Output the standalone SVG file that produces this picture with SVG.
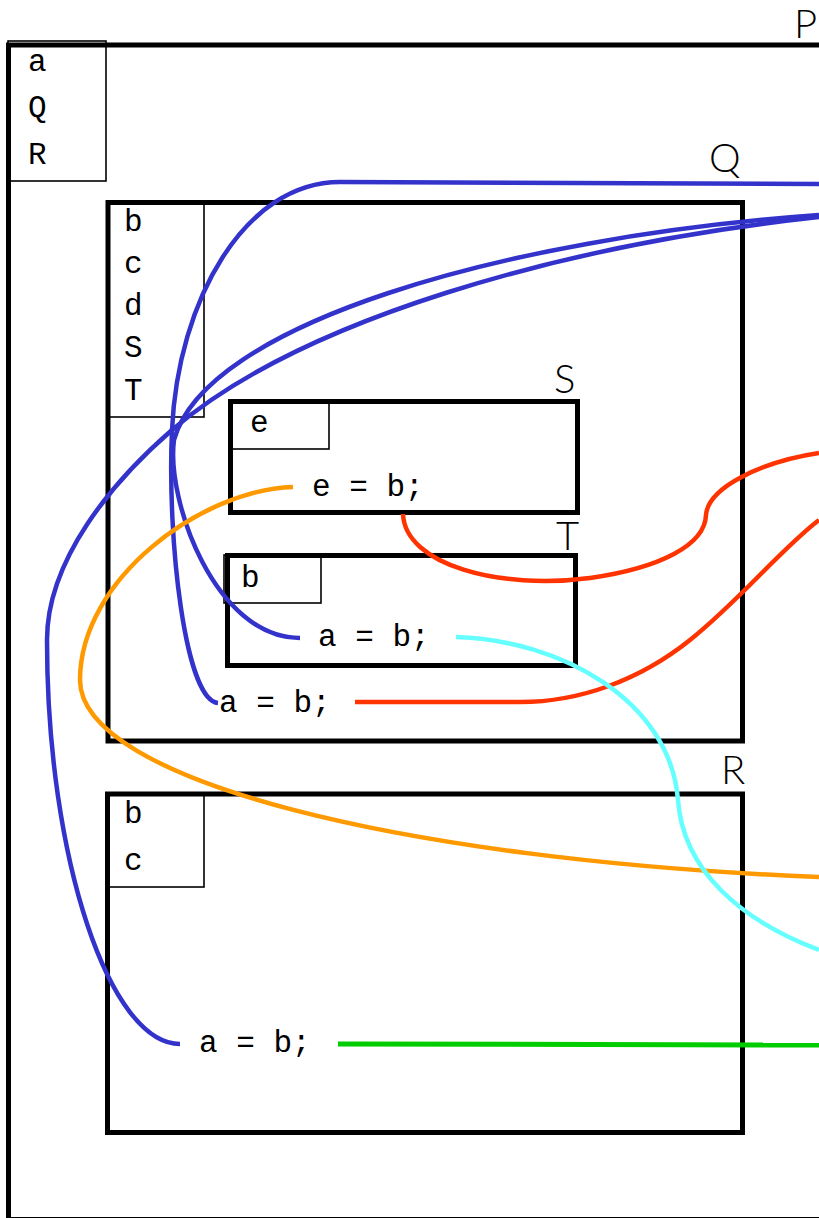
<svg xmlns="http://www.w3.org/2000/svg" width="819" height="1218" viewBox="0 0 819 1218">
<style>
.box{fill:none;stroke:#000;stroke-width:5}
.side{fill:none;stroke:#000;stroke-width:1.6}
.code{font-family:"Liberation Mono","DejaVu Sans Mono",monospace;font-size:31px;fill:#000}
.lbl{font-family:Lato,"Open Sans",sans-serif;font-size:40px;font-weight:300;fill:#000}
.c{fill:none;stroke-width:4.5;stroke-linecap:butt;stroke-linejoin:round}
.blue{stroke:#3333cc}.orange{stroke:#ff9900}.red{stroke:#ff3300}.cyan{stroke:#66ffff}.green{stroke:#00cc00;stroke-width:5}
</style>
<rect width="819" height="1218" fill="#fff"/>
<g id="P">
<rect class="box" x="8.5" y="45" width="900" height="1174.5"/>
<rect class="side" x="8" y="41" width="98" height="140"/>
<text class="code" x="28" y="71">a</text>
<text class="code" x="28" y="117">Q</text>
<text class="code" x="28" y="164">R</text>
<text class="lbl" x="794" y="38">P</text>
</g>
<g id="Q">
<rect class="box" x="108" y="202.5" width="634.5" height="538.5"/>
<rect class="side" x="107" y="202" width="97" height="215"/>
<text class="code" x="124" y="231">b</text>
<text class="code" x="124" y="273">c</text>
<text class="code" x="124" y="315">d</text>
<text class="code" x="124" y="357">S</text>
<text class="code" x="124" y="400">T</text>
<text class="lbl" x="709" y="172">Q</text>
<text class="code" x="219" y="712">a = b;</text>
</g>
<g id="S">
<rect class="box" x="230.5" y="401.5" width="347" height="111"/>
<rect class="side" x="230" y="401" width="99" height="48"/>
<text class="code" x="250" y="432">e</text>
<text class="code" x="312" y="496">e = b;</text>
<text class="lbl" x="554" y="393">S</text>
</g>
<g id="T">
<rect class="box" x="227.5" y="555.5" width="348" height="110"/>
<rect class="side" x="224" y="555" width="97" height="48"/>
<text class="code" x="241" y="587">b</text>
<text class="code" x="318" y="646">a = b;</text>
<text class="lbl" x="556" y="550">T</text>
</g>
<g id="R">
<rect class="box" x="107.5" y="794" width="635" height="338.5"/>
<rect class="side" x="107" y="794" width="97" height="93"/>
<text class="code" x="124" y="823">b</text>
<text class="code" x="124" y="870">c</text>
<text class="code" x="199" y="1052">a = b;</text>
<text class="lbl" x="721" y="784">R</text>
</g>
<g id="connectors">
<path class="c blue" d="M819,184 L340,182 C245,182 178,300 172,430 C167,540 185,700 218,703"/>
<path class="c blue" d="M819,215 C500,238 205,325 174,440 C166,500 215,638 300,638"/>
<path class="c blue" d="M819,217 C560,245 300,320 172,430 C112,482 47,560 47,640 C47,860 110,1044 180,1044"/>
<path class="c orange" d="M293,487 C200,490 80,580 80,680 C80,780 400,860 819,877"/>
<path class="c red" d="M403,514 C405,565 500,590 590,578 C660,568 705,545 706,515 C708,488 760,462 819,453"/>
<path class="c red" d="M355,702 L520,702 C580,702 640,680 690,640 C740,600 780,550 819,520"/>
<path class="c cyan" d="M456,637 C560,640 670,700 678,800 C683,870 740,920 819,950"/>
<path class="c green" d="M338,1044 L819,1045"/>
</g>
</svg>
